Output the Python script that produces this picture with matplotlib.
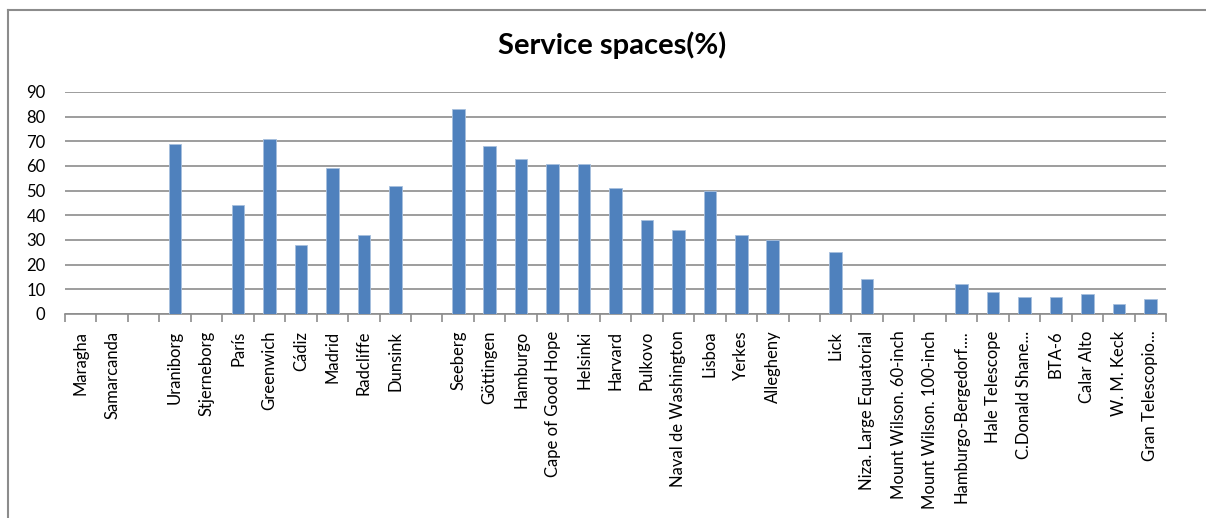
import matplotlib
matplotlib.use("Agg")
import matplotlib.pyplot as plt
from matplotlib.lines import Line2D
import numpy as np

categories = ["Maragha", "Samarcanda", "", "Uraniborg", "Stjerneborg", "París",
              "Greenwich", "Cádiz", "Madrid", "Radcliffe", "Dunsink", "",
              "Seeberg", "Göttingen", "Hamburgo", "Cape of Good Hope", "Helsinki",
              "Harvard", "Pulkovo", "Naval de Washington", "Lisboa", "Yerkes",
              "Allegheny", "", "Lick", "Niza. Large Equatorial",
              "Mount Wilson. 60-inch", "Mount Wilson. 100-inch",
              "Hamburgo-Bergedorf....", "Hale Telescope", "C.Donald Shane...",
              "BTA-6", "Calar Alto", "W. M. Keck", "Gran Telescopio..."]
values = [np.nan, np.nan, np.nan, 69, np.nan, 44,
          71, 28, 59, 32, 52, np.nan,
          83, 68, 63, 61, 61,
          51, 38, 34, 50, 32,
          30, np.nan, 25, 14,
          np.nan, np.nan,
          12, 9, 7,
          7, 8, 4, 6]
title = "Service spaces(%)"
yticks = list(range(0, 91, 10))

fontfam = ["Lato", "DejaVu Sans"]
plt.rcParams['font.family'] = fontfam

fig = plt.figure(figsize=(12.06, 5.18), dpi=100)
ax = fig.add_axes([65/1206, 1-314/518, (1166-65)/1206, (314-92)/518])

x = np.arange(len(categories))
vals = np.array(values, dtype=float)
mask = ~np.isnan(vals)
ax.bar(x[mask], vals[mask], width=0.4, color="#4F81BD", edgecolor="#A7C0DE",
       linewidth=0.6, zorder=3)

ax.set_xlim(-0.5, len(categories) - 0.5)
ax.set_ylim(0, 90)
ax.set_yticks(yticks)
ax.set_yticklabels([str(v) for v in yticks], fontsize=12)
ax.tick_params(axis='y', length=0, pad=14)
ax.yaxis.grid(True, color="#8C8C8C", linewidth=1.2, zorder=0)
ax.set_axisbelow(True)

ax.set_xticks(x)
ax.set_xticklabels(categories, rotation=90, fontsize=12, va='top')
ax.tick_params(axis='x', length=0, pad=12)
ax.set_xticks(np.arange(-0.5, len(categories), 1.0), minor=True)
ax.tick_params(axis='x', which='minor', length=6, color="#8C8C8C", width=1.2)

for s in ['top', 'right', 'left']:
    ax.spines[s].set_visible(False)
ax.spines['bottom'].set_color("#8C8C8C")
ax.spines['bottom'].set_linewidth(1.2)

fig.text(612/1206, 1-45/518, title, ha='center', va='center',
         fontsize=21, fontweight='bold')

# outer chart frame (top and left visible)
fig.add_artist(Line2D([8/1206, 1.0], [1-10/518, 1-10/518], color="#8C8C8C",
                      linewidth=1.5, transform=fig.transFigure))
fig.add_artist(Line2D([8/1206, 8/1206], [1-10/518, 0.0], color="#8C8C8C",
                      linewidth=1.5, transform=fig.transFigure))

fig.savefig("out.png", dpi=100)
